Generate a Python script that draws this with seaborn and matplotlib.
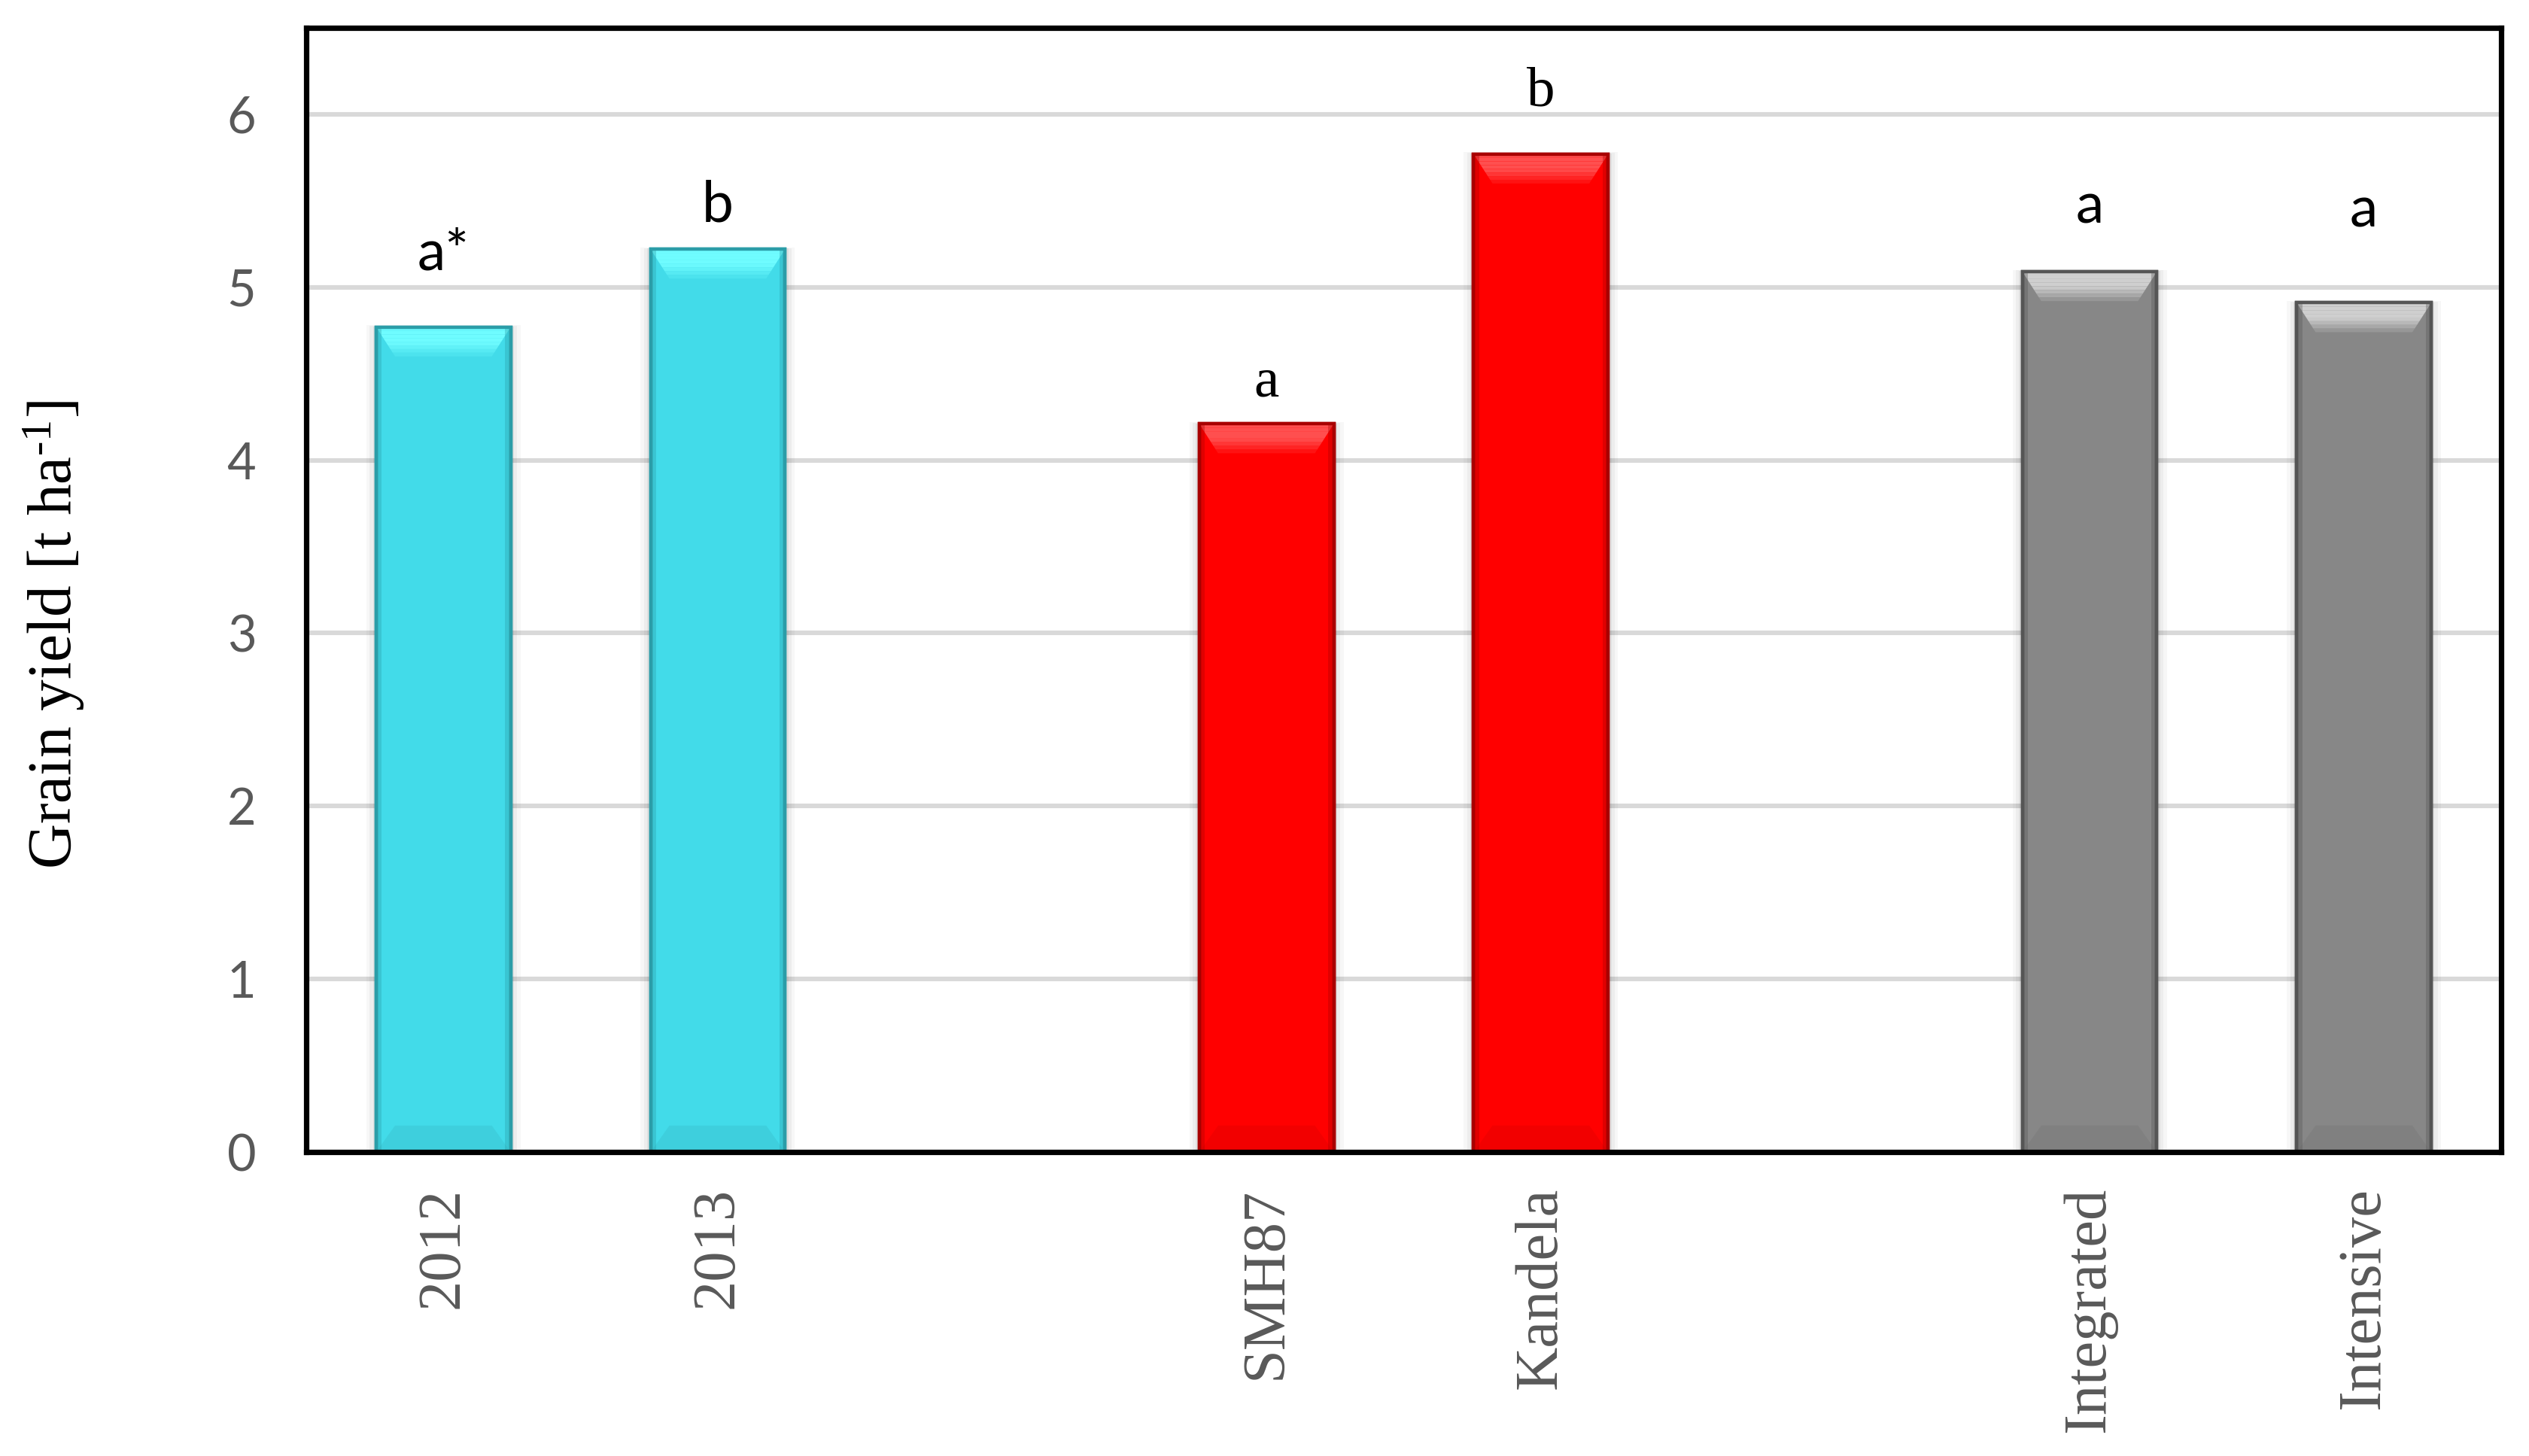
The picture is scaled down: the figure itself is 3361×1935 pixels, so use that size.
import numpy as np
import pandas as pd
import matplotlib
matplotlib.use("Agg")
import matplotlib.pyplot as plt
import seaborn as sns
from matplotlib.patches import Polygon
from matplotlib.colors import to_rgb

# ---------------- data ----------------
categories = ["2012", "2013", "SMH87", "Kandela", "Integrated", "Intensive"]
groups = ["Year", "Year", "Cultivar", "Cultivar", "System", "System"]
grain_yield = [4.77, 5.22, 4.21, 5.77, 5.09, 4.91]
letters = ["a*", "b", "a", "b", "a", "a"]
y_ticks = [0, 1, 2, 3, 4, 5, 6]
y_label = "Grain yield [t ha$^{\\mathregular{\u20101}}$]"

# ---------------- styles ----------------
slot_order = ["2012", "2013", " ", "SMH87", "Kandela", "  ", "Integrated", "Intensive"]
group_colors = {"Year": "#42DBE9", "Cultivar": "#FF0000", "System": "#878787"}
edge_colors = {"Year": "#2B9DA8", "Cultivar": "#A80000", "System": "#555555"}
top_colors = {"Year": "#6FFCFF", "Cultivar": "#FF4F4F", "System": "#CFCFCF"}
letter_offsets = [0.33, 0.16, 0.16, 0.28, 0.28, 0.44]
letter_fonts = ["sans", "sans", "serif", "serif", "sans", "sans"]

sns.set_style("white")
plt.rcParams["font.family"] = ["Liberation Serif", "DejaVu Serif"]
plt.rcParams["mathtext.fontset"] = "custom"
plt.rcParams["mathtext.rm"] = "Liberation Serif"
plt.rcParams["mathtext.it"] = "Liberation Serif:italic"

df = pd.DataFrame({"category": categories, "group": groups, "value": grain_yield})

fig = plt.figure(figsize=(3361 / 200, 1935 / 200), dpi=200)
ax = fig.add_axes([407 / 3361, 1 - 1531 / 1935, 2917 / 3361, 1494 / 1935])

sns.barplot(data=df, x="category", y="value", hue="group", order=slot_order,
            palette=group_colors, dodge=False, width=0.49, legend=False,
            saturation=1, ax=ax, zorder=3)

cat_group = dict(zip(categories, groups))
for p in ax.patches:
    h = p.get_height()
    if not np.isfinite(h) or h <= 0:
        continue
    xc = p.get_x() + p.get_width() / 2
    cat = slot_order[int(round(xc))]
    g = cat_group[cat]
    p.set_edgecolor(edge_colors[g])
    p.set_linewidth(1.6)
    x0, w = p.get_x(), p.get_width()
    ix = w * 0.14
    d = 0.17
    base = np.array(to_rgb(group_colors[g]))
    top = np.array(to_rgb(top_colors[g]))
    # soft shadow glow
    for k, a in enumerate([0.05, 0.04, 0.03]):
        e = 0.012 * (k + 1)
        ax.add_patch(plt.Rectangle((x0 - e, 0), w + 2 * e, h + e * 0.3,
                                   facecolor="black", alpha=a, edgecolor="none", zorder=2))
    # top bevel highlight
    n = 8
    for k in range(n):
        f0 = k / n
        f1 = (k + 1) / n
        t = min(1.0, max(0.0, (f0 - 0.45) / 0.55))
        col = top * (1 - t) + base * t
        poly = Polygon([(x0 + ix * f0, h - d * f0), (x0 + w - ix * f0, h - d * f0),
                        (x0 + w - ix * f1, h - d * f1), (x0 + ix * f1, h - d * f1)],
                       closed=True, facecolor=col, edgecolor="none", zorder=4)
        ax.add_patch(poly)
    # bottom bevel slightly darker
    dark = base * 0.9
    poly = Polygon([(x0, 0), (x0 + w, 0), (x0 + w - ix, d * 0.9), (x0 + ix, d * 0.9)],
                   closed=True, facecolor=dark, edgecolor="none", alpha=0.5, zorder=4)
    ax.add_patch(poly)
    # side shading
    for sx in (x0, x0 + w - w * 0.04):
        ax.add_patch(plt.Rectangle((sx, 0), w * 0.04, h, facecolor=edge_colors[g],
                                   alpha=0.35, edgecolor="none", zorder=4))
    ax.add_patch(plt.Rectangle((x0, 0), w, h, facecolor="none",
                               edgecolor=edge_colors[g], linewidth=1.6, zorder=5))

# letters above bars
for cat, val, lab, off, fnt in zip(categories, grain_yield, letters, letter_offsets, letter_fonts):
    xi = slot_order.index(cat)
    fam = ["Lato", "DejaVu Sans"] if fnt == "sans" else ["Liberation Serif", "DejaVu Serif"]
    ax.text(xi, val + off, lab, ha="center", va="baseline", fontsize=27,
            family=fam, color="black", zorder=6)

ax.set_xlim(-0.5, len(slot_order) - 0.5)
ax.set_ylim(0, 6.5)
ax.set_yticks(y_ticks)
ax.set_yticklabels([str(t) for t in y_ticks], family=["Lato", "DejaVu Sans"],
                   fontsize=24, color="#595959")
ax.set_xticks(range(len(slot_order)))
ax.set_xticklabels([s.strip() for s in slot_order], rotation=90, fontsize=29,
                   color="#595959", va="top", ha="center")
ax.tick_params(axis="both", length=0)
ax.tick_params(axis="y", pad=24)
ax.tick_params(axis="x", pad=17)

ax.yaxis.grid(True, color="#D9D9D9", linewidth=2.2, zorder=0)
ax.xaxis.grid(False)
ax.set_axisbelow(True)
for s in ax.spines.values():
    s.set_visible(True)
    s.set_color("black")
    s.set_linewidth(2.6)
    s.set_zorder(10)

ax.set_xlabel("")
ax.set_ylabel(y_label, fontsize=30, color="black")
ax.yaxis.set_label_coords(-0.100, 0.4605)

fig.savefig("out.png", dpi=200, facecolor="white")
